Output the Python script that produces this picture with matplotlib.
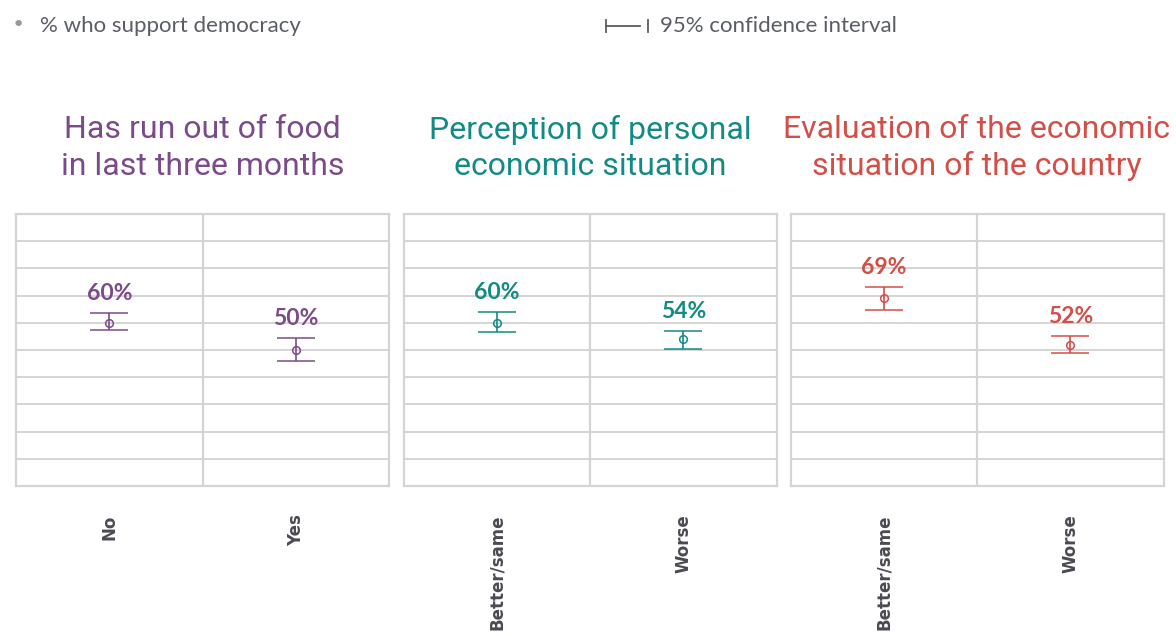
import matplotlib.pyplot as plt
from matplotlib.lines import Line2D

# -------------------------------------------------------
# Data
# -------------------------------------------------------
titles = [
    "Has run out of food\nin last three months",
    "Perception of personal\neconomic situation",
    "Evaluation of the economic\nsituation of the country",
]
categories = [["No", "Yes"], ["Better/same", "Worse"], ["Better/same", "Worse"]]
support = [[60, 50], [60, 54], [69, 52]]
ci_low = [[57.4, 46.1], [56.6, 50.5], [64.6, 49.0]]
ci_high = [[63.5, 54.3], [64.1, 56.9], [73.2, 55.2]]
colors = ["#7b4a8a", "#138a84", "#d24e47"]

# -------------------------------------------------------
# Figure
# -------------------------------------------------------
W, H = 1176, 636
fig = plt.figure(figsize=(W / 100, H / 100), dpi=100)

grid_col = "#d4d4d4"
text_gray = "#5a5d63"
lefts = [16, 403.5, 790.5]
pw, ptop, pbot = 373, 214, 486

for i in range(3):
    ax = fig.add_axes([lefts[i] / W, (H - pbot) / H, pw / W, (pbot - ptop) / H])
    x = list(range(len(categories[i])))
    lo = [s - l for s, l in zip(support[i], ci_low[i])]
    hi = [h - s for s, h in zip(support[i], ci_high[i])]
    ax.errorbar(x, support[i], yerr=[lo, hi], fmt="o", color=colors[i],
                mfc="none", ms=5.5, mew=1.1, elinewidth=1.2, capsize=13.5,
                capthick=1.2, zorder=3)
    for xi, s, h in zip(x, support[i], ci_high[i]):
        ax.annotate(f"{s}%", (xi, h), xytext=(0, 14), textcoords="offset points",
                    ha="center", va="center", fontsize=16.5, fontweight="bold",
                    color=colors[i], family="Lato")
    ax.set_xlim(-0.5, 1.5)
    ax.set_ylim(0, 100)
    ax.set_yticks(range(10, 100, 10))
    ax.yaxis.grid(True, color=grid_col, lw=1.4)
    ax.axvline(0.5, color=grid_col, lw=1.6)
    ax.tick_params(left=False, labelleft=False, bottom=False, pad=17)
    ax.set_xticks(x)
    ax.set_xticklabels(categories[i], rotation=90, va="top", ha="center",
                       fontsize=12, fontweight="bold", color="#4a4b52")
    for sp in ax.spines.values():
        sp.set_color(grid_col)
        sp.set_linewidth(1.6)
    ax.set_axisbelow(True)

    cx = (lefts[i] + pw / 2) / W
    fig.text(cx, 1 - 148 / H, titles[i], ha="center", va="center",
             fontsize=23, color=colors[i], family="Roboto", linespacing=1.32)

# -------------------------------------------------------
# Legend
# -------------------------------------------------------
fig.text(18 / W, 1 - 25 / H, "\u2022", ha="center", va="center",
         fontsize=16, color="#9a9a9a")
fig.text(40 / W, 1 - 26 / H, "% who support democracy", ha="left", va="center",
         fontsize=16, color=text_gray, family="Lato")

yl = 1 - 26 / H
hh = 6 / H
for xs in [606, 648]:
    fig.add_artist(Line2D([xs / W, xs / W], [yl - hh, yl + hh], color=text_gray, lw=1.3))
fig.add_artist(Line2D([606 / W, 640 / W], [yl, yl], color=text_gray, lw=1.3))
fig.text(660 / W, 1 - 26 / H, "95% confidence interval", ha="left", va="center",
         fontsize=16, color=text_gray, family="Lato")

fig.savefig("out.png", dpi=100)
